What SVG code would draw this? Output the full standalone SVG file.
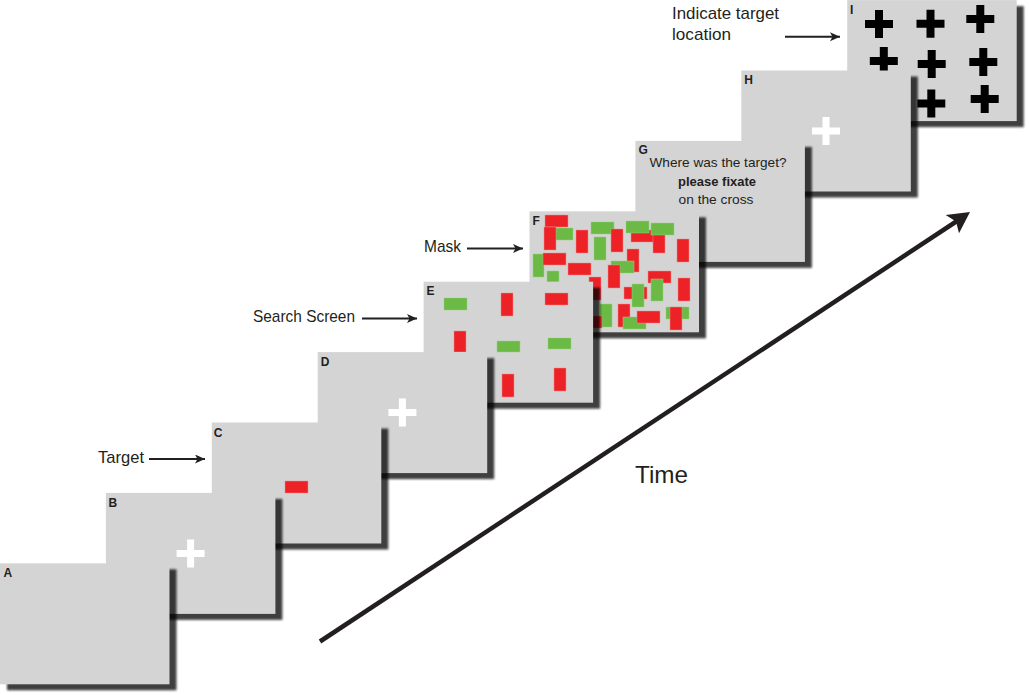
<svg xmlns="http://www.w3.org/2000/svg" xmlns:xlink="http://www.w3.org/1999/xlink" width="1029" height="695" viewBox="0 0 1029 695">
<defs>
<filter id="blur" x="-10%" y="-10%" width="120%" height="120%"><feGaussianBlur stdDeviation="1.3"/></filter>
<path id="wx" d="M-14,-3.5h28v7h-28z M-3.5,-14h7v28h-7z"/>
<path id="bx" d="M-14,-4h28v8h-28z M-4,-14h8v28h-8z"/>
<marker id="ah" markerWidth="11" markerHeight="10" refX="10" refY="4.5" orient="auto" markerUnits="userSpaceOnUse"><path d="M0,0L10,4.5L0,9L2.5,4.5z" fill="#231f20"/></marker>
</defs>
<style>
.p{fill:#d4d4d4}
.s{fill:#000;opacity:.75;filter:url(#blur)}
.r{fill:#ec2227;stroke:#f08a8a;stroke-width:.5}
.g{fill:#6aba45;stroke:#9ad080;stroke-width:.5}
.wc{fill:#fff}
.bc{fill:#000}
.lbl{font-family:"Liberation Sans",Arial,sans-serif;font-weight:bold;font-size:12px;fill:#231f20}
.t{font-family:"Liberation Sans",Arial,sans-serif;font-size:17px;fill:#231f20}
.gt{font-family:"Liberation Sans",Arial,sans-serif;font-size:13.5px;fill:#231f20;text-anchor:middle}
.ln{stroke:#231f20;stroke-width:2;fill:none}
</style>
<rect width="1029" height="695" fill="#fff"/>

<g id="panel-I">
<rect class="s" x="854.2" y="6.1" width="169.5" height="121"/>
<rect class="p" x="847.2" y="0.1" width="169.5" height="121"/>
<text class="lbl" x="850" y="13.5" font-weight="normal">I</text>
<use href="#bx" class="bc" x="879" y="24"/>
<use href="#bx" class="bc" x="930.5" y="23.7"/>
<use href="#bx" class="bc" x="980.3" y="19"/>
<use href="#bx" class="bc" x="883.8" y="61"/>
<use href="#bx" class="bc" x="931.7" y="64"/>
<use href="#bx" class="bc" x="983.3" y="62"/>
<use href="#bx" class="bc" x="931.3" y="103.5"/>
<use href="#bx" class="bc" x="984.7" y="99"/>
</g>

<g id="panel-H">
<rect class="s" x="748.3" y="76.5" width="169.5" height="121"/>
<rect class="p" x="741.3" y="70.5" width="169.5" height="121"/>
<text class="lbl" x="744.3" y="84">H</text>
<use href="#wx" class="wc" x="826" y="131"/>
</g>

<g id="panel-G">
<rect class="s" x="642.4" y="146.9" width="169.5" height="121"/>
<rect class="p" x="635.4" y="140.9" width="169.5" height="121"/>
<text class="lbl" x="638.4" y="154.4">G</text>
<text class="gt" x="718" y="167" textLength="137" lengthAdjust="spacingAndGlyphs">Where was the target?</text>
<text class="gt" x="717" y="185.5" font-weight="bold" textLength="78" lengthAdjust="spacingAndGlyphs">please fixate</text>
<text class="gt" x="716" y="203.5" textLength="75" lengthAdjust="spacingAndGlyphs">on the cross</text>
</g>

<g id="panel-F">
<rect class="s" x="536.5" y="217.3" width="169.5" height="121"/>
<rect class="p" x="529.5" y="211.3" width="169.5" height="121"/>
<text class="lbl" x="532.5" y="224.8">F</text>
<rect class="g" x="550" y="228" width="23" height="12"/>
<rect class="r" x="545" y="215" width="23" height="12"/>
<rect class="r" x="544" y="227" width="12" height="23"/>
<rect class="r" x="576" y="230" width="12" height="23"/>
<rect class="g" x="591" y="222" width="23" height="12"/>
<rect class="g" x="594" y="237" width="12" height="23"/>
<rect class="r" x="611" y="229" width="12" height="23"/>
<rect class="r" x="631" y="230" width="23" height="12"/>
<rect class="r" x="653" y="229" width="12" height="24"/>
<rect class="g" x="626" y="221" width="23" height="12"/>
<rect class="g" x="651" y="223" width="23" height="12"/>
<rect class="r" x="677" y="239" width="12" height="23"/>
<rect class="g" x="533" y="254" width="11" height="23"/>
<rect class="r" x="543" y="253" width="23" height="12"/>
<rect class="g" x="547" y="271" width="12" height="11"/>
<rect class="r" x="568" y="263" width="23" height="12"/>
<rect class="r" x="627" y="249" width="12" height="23"/>
<rect class="g" x="611" y="261" width="23" height="12"/>
<rect class="r" x="608" y="265" width="12" height="23"/>
<rect class="r" x="589" y="277" width="12" height="23"/>
<rect class="r" x="648" y="271" width="23" height="12"/>
<rect class="r" x="678" y="278" width="12" height="23"/>
<rect class="r" x="624" y="287" width="23" height="12"/>
<rect class="g" x="632" y="284" width="12" height="23"/>
<rect class="g" x="651" y="279" width="12" height="22"/>
<rect class="g" x="600" y="304" width="12" height="23"/>
<rect class="r" x="618" y="304" width="12" height="23"/>
<rect class="g" x="623" y="317" width="23" height="12"/>
<rect class="r" x="637" y="311" width="23" height="12"/>
<rect class="g" x="666" y="307" width="23" height="12"/>
<rect class="r" x="670" y="307" width="12" height="23"/>
<rect class="r" x="586" y="316" width="16" height="12"/>
</g>

<g id="panel-E">
<rect class="s" x="430.6" y="287.7" width="169.5" height="121"/>
<rect class="p" x="423.6" y="281.7" width="169.5" height="121"/>
<text class="lbl" x="426.6" y="295.2">E</text>
<rect class="g" x="444" y="298" width="23" height="12"/>
<rect class="r" x="501" y="293" width="12" height="23"/>
<rect class="r" x="545" y="293" width="23" height="12"/>
<rect class="r" x="454" y="331" width="12" height="21"/>
<rect class="g" x="497" y="341" width="23" height="11"/>
<rect class="g" x="548" y="338" width="23" height="11"/>
<rect class="r" x="502" y="374" width="12" height="23"/>
<rect class="r" x="554" y="368" width="12" height="23"/>
</g>

<g id="panel-D">
<rect class="s" x="324.7" y="358.1" width="169.5" height="121"/>
<rect class="p" x="317.7" y="352.1" width="169.5" height="121"/>
<text class="lbl" x="320.7" y="365.6">D</text>
<use href="#wx" class="wc" x="402.4" y="412.6"/>
</g>

<g id="panel-C">
<rect class="s" x="218.8" y="428.5" width="169.5" height="121"/>
<rect class="p" x="211.8" y="422.5" width="169.5" height="121"/>
<text class="lbl" x="213.8" y="436.5">C</text>
<rect class="r" x="285" y="481" width="23" height="12"/>
</g>

<g id="panel-B">
<rect class="s" x="112.9" y="498.9" width="169.5" height="121"/>
<rect class="p" x="105.9" y="492.9" width="169.5" height="121"/>
<text class="lbl" x="108.4" y="506.6">B</text>
<use href="#wx" class="wc" x="190.6" y="553.4"/>
</g>

<g id="panel-A">
<rect class="s" x="7" y="569.3" width="169.5" height="121"/>
<rect class="p" x="0" y="563.3" width="169.5" height="121"/>
<text class="lbl" x="3.5" y="577">A</text>
</g>

<g id="labels">
<text class="t" x="98" y="463" textLength="46" lengthAdjust="spacingAndGlyphs">Target</text>
<text class="t" x="253" y="322" textLength="102" lengthAdjust="spacingAndGlyphs">Search Screen</text>
<text class="t" x="424" y="252" textLength="37" lengthAdjust="spacingAndGlyphs">Mask</text>
<text class="t" x="672" y="18.5" textLength="107" lengthAdjust="spacingAndGlyphs">Indicate target</text>
<text class="t" x="672" y="39.5" textLength="59" lengthAdjust="spacingAndGlyphs">location</text>
<text x="635" y="483" font-family="Liberation Sans, Arial, sans-serif" font-size="24.5" fill="#231f20" textLength="53" lengthAdjust="spacingAndGlyphs">Time</text>
</g>

<g id="connectors">
<line class="ln" x1="149" y1="459" x2="205" y2="459" marker-end="url(#ah)"/>
<line class="ln" x1="362" y1="318.5" x2="417" y2="318.5" marker-end="url(#ah)"/>
<line class="ln" x1="467" y1="248.5" x2="523" y2="248.5" marker-end="url(#ah)"/>
<line class="ln" x1="785" y1="36.7" x2="840" y2="36.7" marker-end="url(#ah)"/>
<line x1="320" y1="641.5" x2="957" y2="221" stroke="#231f20" stroke-width="4.5"/>
<polygon points="970,212 945.7,215 956,221.5 959,233.3" fill="#231f20"/>
</g>
</svg>
